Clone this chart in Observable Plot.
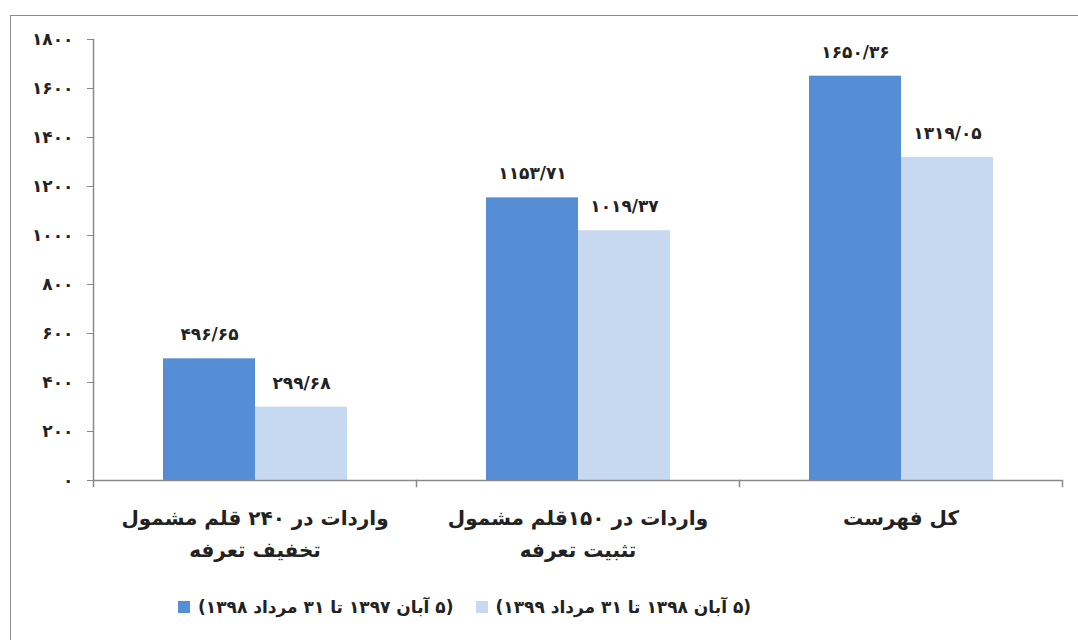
<!DOCTYPE html>
<html><head><meta charset="utf-8">
<script src="https://cdn.jsdelivr.net/npm/d3@7"></script>
<script src="https://cdn.jsdelivr.net/npm/@observablehq/plot@0.6"></script>
<style>
body{margin:0;background:#fff;font-family:"DejaVu Sans",sans-serif;}
#frame{position:absolute;left:10px;top:15px;width:1080px;height:640px;border:1.5px solid #8c8c8c;box-sizing:border-box;}
#chart{position:absolute;left:0;top:0;}
#legend{position:absolute;left:178px;top:597px;display:flex;align-items:center;font-weight:bold;font-size:17px;color:#222;}
.item{display:flex;align-items:center;margin-right:22px;}
.sw{width:12px;height:12px;margin-right:8px;}
</style></head><body>
<div id="frame"></div><div id="chart"></div><div id="legend"></div>
<script>
const categories = ["واردات در ۲۴۰ قلم مشمول\nتخفیف تعرفه", "واردات در ۱۵۰قلم مشمول\nتثبیت تعرفه", "کل فهرست"];
const series = ["(۵ آبان ۱۳۹۷ تا ۳۱ مرداد ۱۳۹۸)", "(۵ آبان ۱۳۹۸ تا ۳۱ مرداد ۱۳۹۹)"];
const values1 = [496.65, 1153.71, 1650.36];
const values2 = [299.68, 1019.37, 1319.05];
const yTicks = [0, 200, 400, 600, 800, 1000, 1200, 1400, 1600, 1800];
const colors = ["#558ED5", "#C6D9F1"];

const fa = s => String(s).replace(/\d/g, d => "۰۱۲۳۴۵۶۷۸۹"[+d]).replace(".", "/");
const rows = [];
categories.forEach((c, i) => {
  rows.push({category: c, series: series[0], value: values1[i]});
  rows.push({category: c, series: series[1], value: values2[i]});
});

const chart = Plot.plot({
  width: 1078, height: 580,
  marginLeft: 92, marginRight: 16, marginTop: 39, marginBottom: 100,
  style: {fontFamily: "DejaVu Sans", fontWeight: "bold", color: "#222", background: "transparent", overflow: "visible"},
  fx: {domain: categories, padding: 0, label: null},
  x: {domain: series, paddingInner: 0, paddingOuter: 0.75, axis: null},
  y: {domain: [0, 1800], label: null},
  color: {domain: series, range: colors},
  marks: [
    Plot.barY(rows, {fx: "category", x: "series", y: "value", fill: "series"}),
    Plot.frame({anchor: "left", facetAnchor: "left", insetBottom: -6, stroke: "#8a8a8a", strokeWidth: 1.5}),
    Plot.frame({anchor: "right", insetTop: 441, insetBottom: -6, stroke: "#8a8a8a", strokeWidth: 1.5}),
    Plot.ruleY([0], {stroke: "#8a8a8a", strokeWidth: 1.5}),
    Plot.text(rows, {fx: "category", x: "series", y: "value", text: d => fa(d.value.toFixed(2)), dy: -24, fontSize: 17, fill: "#222"}),
    Plot.axisY({ticks: yTicks, tickFormat: fa, tickSize: 6, tickPadding: 14, fontSize: 17, stroke: "#8a8a8a", fill: "#222", label: null}),
    Plot.axisFx({anchor: "bottom", tickSize: 0, tickPadding: 22, fontSize: 20, lineHeight: 1.6, fill: "#222", label: null})
  ]
});
document.getElementById("chart").append(chart);

const legend = document.getElementById("legend");
series.forEach((s, i) => {
  const item = document.createElement("div");
  item.className = "item";
  const sw = document.createElement("div");
  sw.className = "sw";
  sw.style.background = colors[i];
  const t = document.createElement("span");
  t.dir = "rtl";
  t.textContent = s;
  item.append(sw, t);
  legend.append(item);
});
</script>
</body></html>
